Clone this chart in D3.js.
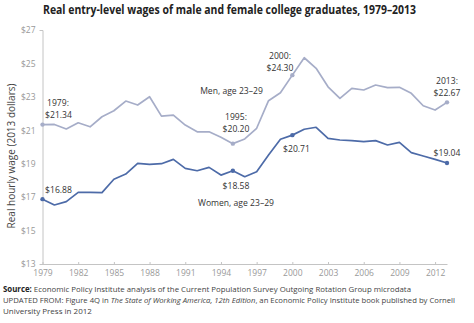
<!DOCTYPE html>
<html><head><meta charset="utf-8">
<script src="https://cdn.jsdelivr.net/npm/d3@7"></script>
<style>
body{margin:0;background:#fff;}
text{font-family:"Open Sans","Noto Sans",sans-serif;}
</style></head>
<body>
<svg id="c" width="474" height="323"></svg>
<script>
const years = d3.range(1979, 2014);
const men = [21.34,21.35,21.08,21.45,21.21,21.81,22.17,22.75,22.51,23.01,21.85,21.91,21.31,20.91,20.91,20.58,20.20,20.48,21.12,22.77,23.25,24.30,25.34,24.71,23.60,22.91,23.51,23.41,23.71,23.55,23.57,23.21,22.47,22.21,22.67];
const women = [16.88,16.53,16.73,17.29,17.28,17.27,18.07,18.38,19.02,18.96,19.00,19.26,18.72,18.58,18.78,18.32,18.58,18.22,18.52,19.52,20.46,20.71,21.06,21.18,20.52,20.42,20.38,20.32,20.38,20.12,20.28,19.66,19.46,19.26,19.04];
const xTicks = [1979,1982,1985,1988,1991,1994,1997,2000,2003,2006,2009,2012];
const yTicks = [13,15,17,19,21,23,25,27];
const markedYears = [1979,1995,2000,2013];
const title = "Real entry-level wages of male and female college graduates, 1979\u20132013";
const yLabel = "Real hourly wage (2013 dollars)";

const svg = d3.select("#c");
const x = d3.scaleLinear().domain([1979,2013]).range([42.5,447]);
const y = d3.scaleLinear().domain([13,27]).range([264,30]);

svg.append("text").attr("x",43).attr("y",14).attr("font-size",12).attr("font-weight","bold")
  .attr("fill","#222").attr("textLength",373).attr("lengthAdjust","spacingAndGlyphs").text(title);

// y axis
const ya = svg.append("g").attr("transform","translate(42.5,0)")
  .call(d3.axisLeft(y).tickValues(yTicks).tickSizeInner(0).tickSizeOuter(3).tickPadding(7).tickFormat(d=>"$"+d));
ya.select(".domain").attr("stroke","#c4c4c4");
ya.selectAll("text").attr("fill","#999").attr("font-size",8.5).attr("font-family","Open Sans");

// x axis
const xa = svg.append("g").attr("transform","translate(0,264)")
  .call(d3.axisBottom(x).tickValues(xTicks).tickSizeInner(-2).tickSizeOuter(0).tickPadding(6).tickFormat(d3.format("d")));
xa.select(".domain").attr("stroke","#c4c4c4");
xa.selectAll(".tick line").attr("stroke","#c4c4c4");
xa.selectAll("text").attr("fill","#999").attr("font-size",8.5).attr("font-family","Open Sans");

svg.append("text").attr("transform","translate(15,156) rotate(-90)").attr("text-anchor","middle")
  .attr("font-size",10).attr("fill","#444").text(yLabel);

const line = d3.line().x((d,i)=>x(years[i])).y(d=>y(d));
const series = [{v:men,c:"#a6adc8"},{v:women,c:"#4d6ba8"}];
series.forEach(s=>{
  svg.append("path").attr("d",line(s.v)).attr("fill","none").attr("stroke",s.c).attr("stroke-width",1.7).attr("stroke-linejoin","round");
  svg.selectAll(null).data(markedYears).enter().append("circle")
    .attr("cx",d=>x(d)).attr("cy",d=>y(s.v[years.indexOf(d)])).attr("r",2.2).attr("fill",s.c);
});

const ann = [
  [58,105.5,"1979:"],[58.5,117.5,"$21.34"],[58.5,193,"$16.88"],
  [231.5,94,"Men, age 23\u201329"],
  [236,119.5,"1995:"],[236,131.5,"$20.20"],
  [280,58.5,"2000:"],[280,70.5,"$24.30"],
  [296.5,152,"$20.71"],
  [236,188.5,"$18.58"],[236,206,"Women, age 23\u201329"],
  [447,84,"2013:"],[447,96,"$22.67"],[447,156,"$19.04"]
];
svg.selectAll(null).data(ann).enter().append("text")
  .attr("x",d=>d[0]).attr("y",d=>d[1]).attr("text-anchor","middle")
  .attr("font-size",8.6).attr("fill","#333").text(d=>d[2]);

const src = svg.append("g").attr("font-size",8).attr("fill","#444");
const l1 = src.append("text").attr("x",3).attr("y",292).attr("textLength",408).attr("lengthAdjust","spacingAndGlyphs");
l1.append("tspan").attr("font-weight","bold").attr("fill","#222").text("Source:");
l1.append("tspan").text(" Economic Policy Institute analysis of the Current Population Survey Outgoing Rotation Group microdata");
const l2 = src.append("text").attr("x",3).attr("y",303).attr("textLength",452).attr("lengthAdjust","spacingAndGlyphs");
l2.append("tspan").text("UPDATED FROM: Figure 4Q in ");
l2.append("tspan").attr("font-style","italic").text("The State of Working America, 12th Edition");
l2.append("tspan").text(", an Economic Policy Institute book published by Cornell");
src.append("text").attr("x",3).attr("y",314).text("University Press in 2012");
</script>
</body></html>
